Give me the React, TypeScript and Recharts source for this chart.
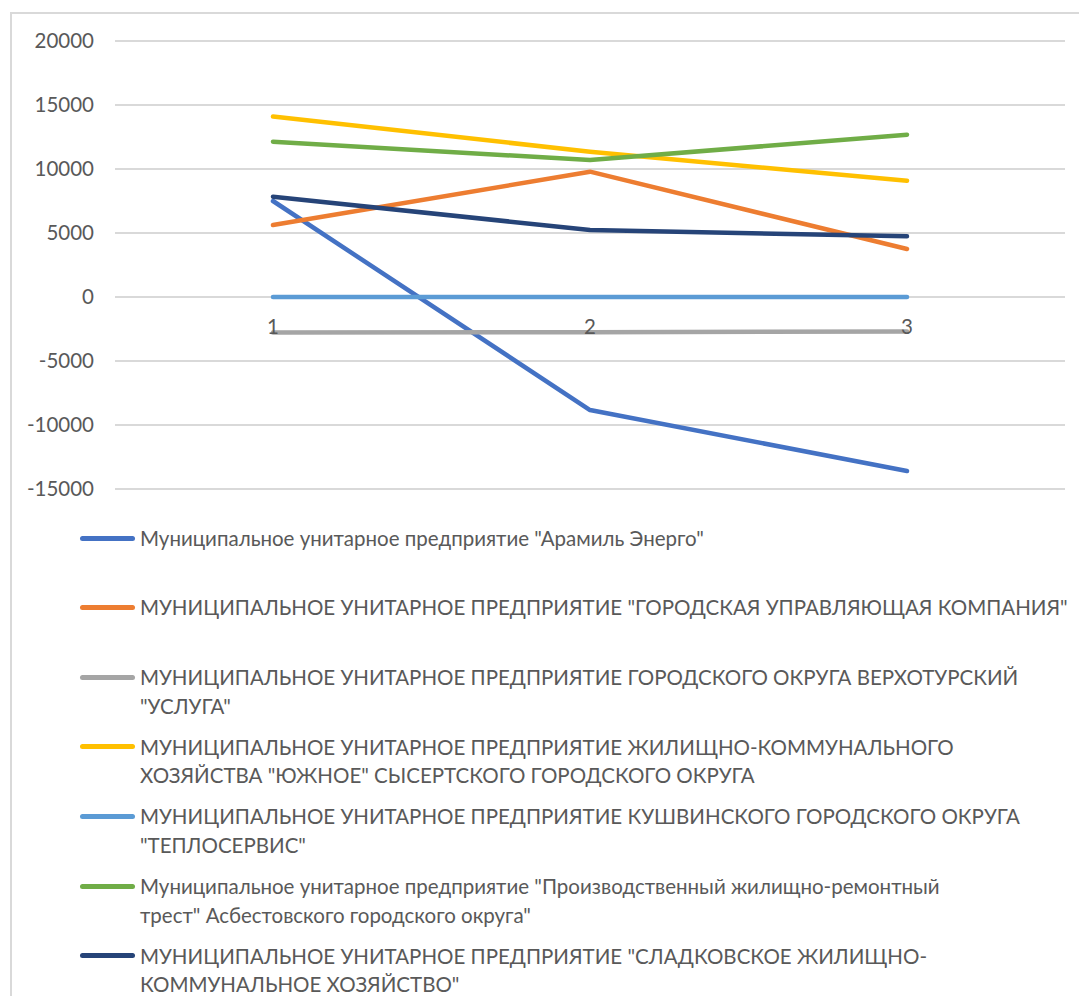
import { LineChart, Line, XAxis, YAxis, CartesianGrid, ReferenceDot } from "recharts";

const categories = [1, 2, 3];
const yTicks = [-15000, -10000, -5000, 0, 5000, 10000, 15000, 20000];

const aramilEnergo = [7500, -8830, -13600];
const gorodskayaUK = [5620, 9790, 3750];
const uslugaVerkhoturye = [-2780, -2750, -2700];
const yuzhnoeSysert = [14100, 11350, 9080];
const teploservisKushva = [0, 0, 0];
const trestAsbest = [12130, 10700, 12680];
const sladkovskoeZhkh = [7840, 5230, 4740];

// line breaks follow the wrapping of the original legend
const seriesNames = [
    'Муниципальное унитарное предприятие "Арамиль Энерго"',
    'МУНИЦИПАЛЬНОЕ УНИТАРНОЕ ПРЕДПРИЯТИЕ "ГОРОДСКАЯ УПРАВЛЯЮЩАЯ КОМПАНИЯ"',
    'МУНИЦИПАЛЬНОЕ УНИТАРНОЕ ПРЕДПРИЯТИЕ ГОРОДСКОГО ОКРУГА ВЕРХОТУРСКИЙ\n"УСЛУГА"',
    'МУНИЦИПАЛЬНОЕ УНИТАРНОЕ ПРЕДПРИЯТИЕ ЖИЛИЩНО-КОММУНАЛЬНОГО\nХОЗЯЙСТВА "ЮЖНОЕ" СЫСЕРТСКОГО ГОРОДСКОГО ОКРУГА',
    'МУНИЦИПАЛЬНОЕ УНИТАРНОЕ ПРЕДПРИЯТИЕ КУШВИНСКОГО ГОРОДСКОГО ОКРУГА\n"ТЕПЛОСЕРВИС"',
    'Муниципальное унитарное предприятие "Производственный жилищно-ремонтный\nтрест" Асбестовского городского округа"',
    'МУНИЦИПАЛЬНОЕ УНИТАРНОЕ ПРЕДПРИЯТИЕ "СЛАДКОВСКОЕ ЖИЛИЩНО-\nКОММУНАЛЬНОЕ ХОЗЯЙСТВО"',
];

const seriesColors = ["#4472C4", "#ED7D31", "#A5A5A5", "#FFC000", "#5B9BD5", "#70AD47", "#264478"];

const seriesValues = [
    aramilEnergo,
    gorodskayaUK,
    uslugaVerkhoturye,
    yuzhnoeSysert,
    teploservisKushva,
    trestAsbest,
    sladkovskoeZhkh,
];

const data = categories.map((cat, i) => {
    const row: Record<string, number> = { cat };
    seriesValues.forEach((vals, s) => {
        row["s" + s] = vals[i];
    });
    return row;
});

const FONT = "Lato, 'Noto Sans', sans-serif";
const TEXT = "#595959";
const FONT_SIZE = 20.5;

function ChartLegend() {
    return (
        <div style={{ position: "absolute", left: 80, top: 523.75, fontFamily: FONT, fontSize: FONT_SIZE, color: TEXT }}>
            {seriesNames.map((name, i) => (
                <div key={i} style={{ position: "relative", height: 69.67 }}>
                    <div
                        style={{
                            position: "absolute",
                            left: 0,
                            top: 11.75,
                            width: 55,
                            height: 5,
                            borderRadius: 3,
                            background: seriesColors[i],
                        }}
                    />
                    <div style={{ position: "absolute", left: 60, top: 0, lineHeight: "28.5px", whiteSpace: "pre" }}>
                        {name}
                    </div>
                </div>
            ))}
        </div>
    );
}

export default function App() {
    return (
        <div style={{ position: "fixed", left: 0, top: 0, width: 1079, height: 996, overflow: "hidden", background: "#fff" }}>
            <div
                style={{
                    position: "absolute",
                    left: 10,
                    top: 12,
                    width: 1100,
                    height: 1000,
                    borderLeft: "2px solid #d9d9d9",
                    borderTop: "2px solid #d9d9d9",
                }}
            />
            <div style={{ position: "absolute", left: 0, top: 0 }}>
                <LineChart width={1079} height={520} data={data} margin={{ top: 41, right: 14, left: 10, bottom: 31 }}>
                    <CartesianGrid vertical={false} stroke="#d9d9d9" strokeWidth={2} />
                    <XAxis dataKey="cat" hide padding={{ left: 158, right: 158 }} />
                    <YAxis
                        width={105}
                        domain={[-15000, 20000]}
                        ticks={yTicks}
                        interval={0}
                        axisLine={false}
                        tickLine={false}
                        tickSize={0}
                        tickMargin={21}
                        tick={{ fill: TEXT, fontSize: FONT_SIZE, fontFamily: FONT }}
                    />
                    {seriesValues.map((_, s) => (
                        <Line
                            key={s}
                            dataKey={"s" + s}
                            name={seriesNames[s]}
                            stroke={seriesColors[s]}
                            strokeWidth={4.5}
                            strokeLinecap="round"
                            strokeLinejoin="round"
                            dot={false}
                            activeDot={false}
                            isAnimationActive={false}
                        />
                    ))}
                    {categories.map((c) => (
                        <ReferenceDot
                            key={c}
                            x={c}
                            y={0}
                            r={0}
                            fill="none"
                            stroke="none"
                            label={{ value: String(c), position: "bottom", offset: 22, fill: TEXT, fontSize: FONT_SIZE, fontFamily: FONT }}
                        />
                    ))}
                </LineChart>
            </div>
            <ChartLegend />
        </div>
    );
}
